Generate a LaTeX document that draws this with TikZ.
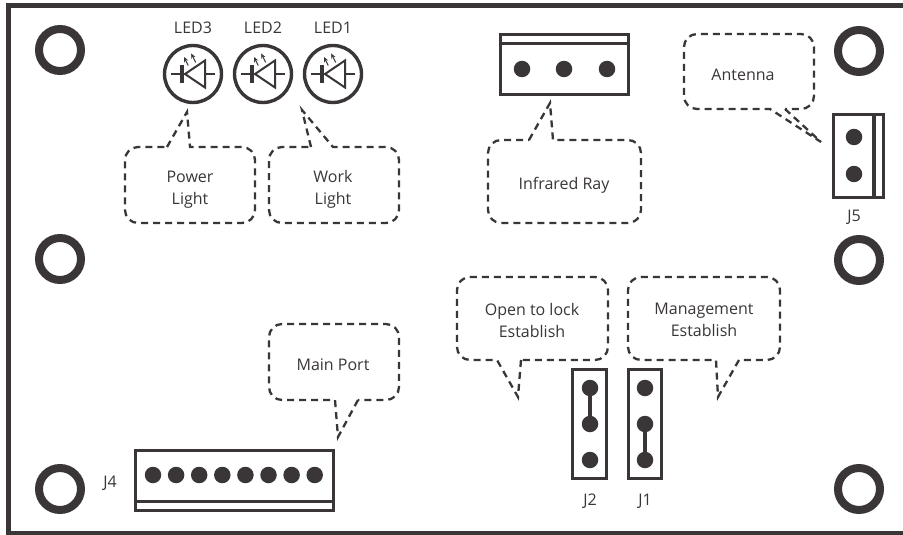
\documentclass[tikz,border=0pt]{standalone}
\usepackage{fontspec}
\setmainfont{Open Sans}
\usetikzlibrary{arrows.meta}
\definecolor{ink}{HTML}{3A3637}
\tikzset{
  frameline/.style={draw=ink,line width=4.5pt},
  hole/.style={circle,draw=ink,line width=8pt,minimum size=42pt,inner sep=0pt},
  ledring/.style={circle,draw=ink,line width=3.4pt,minimum size=57pt,inner sep=0pt},
  conn/.style={draw=ink,line width=3.5pt},
  pinhole/.style={circle,fill=ink,minimum size=16.5pt,inner sep=0pt},
  link/.style={draw=ink,line width=4pt},
  callout/.style={draw=ink,line width=2.3pt,dash pattern=on 7pt off 5pt,rounded corners=13pt},
  label/.style={text=ink,font=\fontsize{16}{22}\selectfont,align=center,inner sep=0pt},
  sym/.style={draw=ink,line width=1.5pt},
}
\newcommand{\ledsym}[3]{%
  \node[ledring] (#1) at (#2,74) {};
  \node[label] (#1t) at (#2,28) {#3};
  \begin{scope}[shift={(#2,74)}]
    \draw[sym,line width=2.6pt] (-22,0) -- (-8,0);
    \draw[sym,line width=2.6pt] (12,0) -- (22,0);
    \draw[sym,line width=4.5pt] (-11,-9) -- (-11,9);
    \draw[sym,line width=2pt] (-8,0) -- (12,-13.5) -- (12,13.5) -- cycle;
    \draw[draw=ink,line width=1pt,-{Stealth[length=5pt,width=4.5pt]}] (-4.7,-8.5) -- (-9,-17);
    \draw[draw=ink,line width=1pt,-{Stealth[length=5pt,width=4.5pt]}] (2.7,-11.5) -- (-1.8,-20.5);
  \end{scope}}
\begin{document}
\begin{tikzpicture}[x=1pt,y=-1pt]
\useasboundingbox (0,0) rectangle (903,535);
\fill[white] (0,0) rectangle (903,535);
% board edge
\draw[frameline] (910,5.3) -- (8.7,5.3) -- (8.7,533.5) -- (910,533.5);
% mounting holes
\node[hole] (h1) at (60,50) {};
\node[hole] (h2) at (60,259) {};
\node[hole] (h3) at (60,489) {};
\node[hole] (h4) at (859,51) {};
\node[hole] (h5) at (859,260) {};
\node[hole] (h6) at (859,489) {};
% LEDs
\ledsym{led3}{193}{LED3}
\ledsym{led2}{263}{LED2}
\ledsym{led1}{333}{LED1}
% callouts
\draw[callout] (167,147) [sharp corners] -- (187,112) -- (190,147) [rounded corners=13pt] -- (255,147) -- (255,223) -- (125,223) -- (125,147) -- (167,147);
\node[label] (power) at (190,189.5) {Power\\Light};
\draw[callout] (311,147) [sharp corners] -- (302,110) -- (333,147) [rounded corners=13pt] -- (399,147) -- (399,223) -- (269,223) -- (269,147) -- (311,147);
\node[label] (work) at (333,189.5) {Work\\Light};
\draw[callout] (529,140) [sharp corners] -- (550,103) -- (553,140) [rounded corners=13pt] -- (641,140) -- (641,223) -- (488,223) -- (488,140) -- (529,140);
\node[label] (ir) at (564,185) {Infrared Ray};
\draw[callout] (785,109) [sharp corners] -- (821,142) -- (770,109) [rounded corners=13pt] -- (684,109) -- (684,34) -- (814,34) -- (814,109) -- (785,109);
\node[label] (ant) at (743,75) {Antenna};
\draw[callout] (521,360) [sharp corners] -- (518,397) -- (497,360) [rounded corners=13pt] -- (457,360) -- (457,277) -- (608,277) -- (608,360) -- (521,360);
\node[label] (open) at (532,320) {Open to lock\\Establish};
\draw[callout] (739,360) [sharp corners] -- (718,397) -- (716,360) [rounded corners=13pt] -- (628,360) -- (628,277) -- (780,277) -- (780,360) -- (739,360);
\node[label] (mgmt) at (704,320) {Management\\Establish};
\draw[callout] (358,400) [sharp corners] -- (338,437) -- (335,400) [rounded corners=13pt] -- (269,400) -- (269,324) -- (399,324) -- (399,400) -- (358,400);
\node[label] (main) at (333,365) {Main Port};
% infrared connector
\draw[conn] (500.5,34.5) rectangle (628.5,94.5);
\draw[conn] (500.5,43.5) -- (628.5,43.5);
\node[pinhole] (irA) at (522,69) {};
\node[pinhole] (irB) at (564,69) {};
\node[pinhole] (irC) at (607,69) {};
% J5
\draw[conn] (833.5,114.5) rectangle (883.5,197.5);
\draw[conn] (874,114.5) -- (874,197.5);
\node[pinhole] (j5a) at (854,137) {};
\node[pinhole] (j5b) at (854,174) {};
\node[label] (j5) at (854,217) {J5};
% J2
\draw[conn] (572.5,369.5) rectangle (606.5,478.5);
\node[pinhole] (j2a) at (590,388) {};
\node[pinhole] (j2b) at (590,424) {};
\node[pinhole] (j2c) at (590,460) {};
\draw[link] (j2a) -- (j2b);
\node[label] (j2) at (590,501) {J2};
% J1
\draw[conn] (628.5,369.5) rectangle (661.5,478.5);
\node[pinhole] (j1a) at (645,388) {};
\node[pinhole] (j1b) at (645,424) {};
\node[pinhole] (j1c) at (645,460) {};
\draw[link] (j1b) -- (j1c);
\node[label] (j1) at (645,501) {J1};
% J4
\draw[conn] (135.5,450.5) rectangle (333.5,510.5);
\draw[conn] (135.5,501.5) -- (333.5,501.5);
\foreach \i [evaluate=\i as \px using 153+23.1*(\i-1)] in {1,...,8}
  \node[pinhole] (j4p\i) at (\px,475) {};
\node[label] (j4) at (110,483) {J4};
\end{tikzpicture}
\end{document}
